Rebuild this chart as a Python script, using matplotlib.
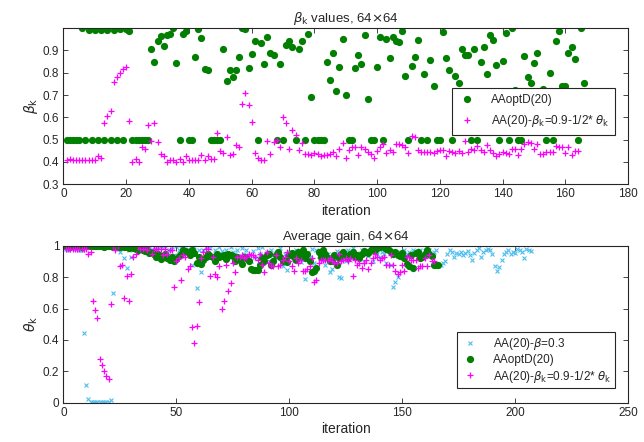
import matplotlib
matplotlib.use("Agg")
import matplotlib.pyplot as plt

# ---------------- data ----------------
# Top panel: beta_k values
beta_opt = [0.5, 0.5, 0.5, 0.5, 0.5, 1.0, 0.5, 0.99, 0.5, 0.99,
            0.5, 0.99, 0.5, 0.99, 0.5, 0.99, 0.5, 0.995, 0.5, 0.995,
            0.985, 0.5, 0.5, 0.5, 0.5, 0.5, 0.5, 0.905, 0.847, 0.94,
            0.963, 0.918, 0.97, 0.972, 0.998, 0.843, 0.5, 0.975, 0.985, 0.5,
            0.5, 0.87, 0.995, 0.955, 0.815, 0.81, 0.5, 0.5, 0.5, 0.5,
            0.905, 0.762, 0.812, 0.78, 0.812, 0.868, 0.998, 0.995, 0.82, 0.882,
            0.94, 0.5, 0.932, 0.84, 0.962, 0.887, 0.878, 0.5, 0.84, 0.5,
            0.925, 0.944, 0.914, 0.5, 0.905, 0.944, 0.5, 0.975, 0.693, 0.5,
            0.5, 0.5, 0.5, 0.85, 0.765, 0.887, 0.716, 0.826, 0.95, 0.698,
            0.5, 0.5, 0.82, 0.88, 0.837, 0.97, 0.684, 0.5, 0.5, 0.826,
            0.962, 0.5, 0.95, 0.867, 0.962, 0.94, 0.937, 0.985, 0.785, 0.5,
            0.828, 0.87, 0.945, 0.5, 0.795, 0.5, 0.856, 0.741, 0.5, 0.5,
            0.98, 0.867, 0.813, 0.5, 0.787, 0.752, 0.905, 0.88, 0.878, 0.5,
            0.905, 0.5, 0.846, 0.917, 0.795, 0.97, 0.947, 0.836, 0.5, 0.853,
            0.976, 0.5, 0.998, 0.722, 0.5, 0.5, 0.876, 0.78, 0.752, 0.845,
            0.886, 0.706, 0.727, 0.5, 0.797, 0.5, 0.94, 0.987, 0.742, 0.742,
            0.89, 0.913, 0.862, 0.5, 0.998, 0.752]

beta_aa = [0.41, 0.412, 0.41, 0.41, 0.41, 0.41, 0.41, 0.41, 0.41, 0.41,
           0.425, 0.42, 0.575, 0.605, 0.63, 0.76, 0.78, 0.80, 0.815, 0.825,
           0.585, 0.40, 0.415, 0.40, 0.465, 0.46, 0.565, 0.495, 0.575, 0.49,
           0.435, 0.425, 0.40, 0.41, 0.41, 0.40, 0.415, 0.40, 0.425, 0.41,
           0.41, 0.41, 0.41, 0.43, 0.41, 0.425, 0.415, 0.415, 0.53, 0.45,
           0.44, 0.51, 0.43, 0.435, 0.475, 0.465, 0.66, 0.71, 0.655, 0.58,
           0.44, 0.42, 0.41, 0.41, 0.495, 0.435, 0.49, 0.50, 0.465, 0.60,
           0.575, 0.46, 0.545, 0.52, 0.455, 0.485, 0.435, 0.435, 0.43, 0.44,
           0.435, 0.425, 0.43, 0.43, 0.435, 0.445, 0.425, 0.46, 0.485, 0.42,
           0.455, 0.465, 0.465, 0.43, 0.465, 0.46, 0.445, 0.435, 0.42, 0.45,
           0.465, 0.48, 0.44, 0.455, 0.445, 0.48, 0.48, 0.475, 0.465, 0.44,
           0.515, 0.51, 0.455, 0.445, 0.445, 0.445, 0.445, 0.44, 0.45, 0.455,
           0.455, 0.425, 0.45, 0.445, 0.44, 0.45, 0.44, 0.495, 0.445, 0.46,
           0.455, 0.47, 0.455, 0.445, 0.475, 0.455, 0.44, 0.425, 0.435, 0.445,
           0.44, 0.435, 0.46, 0.46, 0.43, 0.46, 0.48, 0.49, 0.485, 0.46,
           0.48, 0.435, 0.435, 0.445, 0.445, 0.445, 0.47, 0.465, 0.465, 0.44,
           0.465, 0.43, 0.45, 0.45]

# Bottom panel: theta_k (average gain)
theta_b03 = [0.98, 0.975, 0.985, 0.99, 0.98, 0.99, 0.97, 0.975, 0.445, 0.115,
             0.025, 0.005, 0.005, 0.004, 0.005, 0.005, 0.006, 0.005, 0.005, 0.006,
             0.015, 0.70, 0.99, 0.98, 0.96, 0.995, 0.92, 0.855, 0.975, 0.93,
             0.99, 0.985, 1.0, 0.97, 0.995, 0.98, 0.99, 1.0, 0.975, 0.99,
             0.965, 0.99, 1.0, 0.985, 1.0, 0.96, 0.975, 0.99, 0.94, 0.995,
             0.97, 0.985, 0.99, 0.96, 0.98, 0.965, 0.875, 0.99, 0.73, 0.975,
             0.83, 0.97, 0.99, 0.955, 0.985, 0.92, 0.975, 0.94, 0.99, 0.965,
             0.95, 0.975, 0.93, 0.99, 0.96, 0.945, 0.97, 0.935, 0.985, 0.95,
             0.975, 0.94, 0.90, 0.965, 0.925, 0.985, 0.945, 0.99, 0.93, 0.96,
             0.905, 0.975, 0.94, 0.955, 0.925, 0.985, 0.87, 0.95, 0.845, 0.96,
             0.935, 0.905, 0.975, 0.95, 0.895, 0.985, 0.79, 0.955, 0.93, 0.98,
             0.89, 0.97, 0.935, 0.96, 0.91, 0.875, 0.945, 0.835, 0.85, 0.92,
             0.965, 0.80, 0.795, 0.945, 0.90, 0.975, 0.91, 0.985, 0.94, 0.955,
             0.92, 0.97, 0.895, 0.955, 0.935, 0.98, 0.90, 0.965, 0.945, 0.93,
             0.96, 0.95, 0.89, 0.975, 0.88, 0.735, 0.77, 0.80, 0.96, 0.935,
             0.975, 0.945, 0.96, 0.925, 0.975, 0.955, 0.93, 0.97, 0.94, 0.965,
             0.95, 0.975, 0.935, 0.96, 0.97, 0.875, 0.88, 0.89, 0.90, 0.95,
             0.97, 0.96, 0.93, 0.955, 0.95, 0.96, 0.94, 0.955, 0.965, 0.94,
             0.91, 0.955, 0.97, 0.985, 0.93, 0.96, 0.975, 0.98, 0.97, 0.95,
             0.87, 0.84, 0.865, 0.91, 0.95, 0.96, 0.97, 0.945, 0.96, 0.955,
             0.98, 0.97, 0.96, 0.92, 0.98, 0.975, 0.965]

theta_opt = [0.995, 0.995, 0.99, 0.995, 0.995, 0.995, 0.995, 0.99, 0.995, 0.995,
             0.995, 0.995, 0.995, 0.995, 0.995, 0.995, 0.995, 0.99, 0.995, 0.995,
             0.995, 0.99, 0.995, 0.99, 0.99, 0.995, 0.99, 0.99, 0.985, 0.99,
             0.985, 0.98, 0.975, 0.98, 0.97, 0.965, 0.97, 0.955, 0.96, 0.95,
             0.93, 0.945, 0.915, 0.935, 0.95, 0.92, 0.91, 0.93, 0.905, 0.915,
             0.935, 0.95, 0.97, 0.965, 0.96, 0.94, 0.97, 0.955, 0.89, 0.93,
             0.885, 0.91, 0.925, 0.95, 0.935, 0.93, 0.90, 0.945, 0.925, 0.935,
             0.94, 0.915, 0.95, 0.94, 0.935, 0.90, 0.93, 0.91, 0.885, 0.93,
             0.92, 0.90, 0.85, 0.848, 0.845, 0.845, 0.88, 0.92, 0.905, 0.94,
             0.95, 0.875, 0.90, 0.94, 0.96, 0.93, 0.905, 0.91, 0.895, 0.94,
             0.955, 0.93, 0.91, 0.96, 0.935, 0.975, 0.92, 0.945, 0.90, 0.83,
             0.84, 0.86, 0.96, 0.93, 0.97, 0.945, 0.92, 0.905, 0.90, 0.94,
             0.875, 0.92, 0.945, 0.96, 0.935, 0.925, 0.95, 0.96, 0.93, 0.94,
             0.92, 0.95, 0.965, 0.96, 0.955, 0.975, 0.98, 0.97, 0.985, 0.99,
             0.995, 0.99, 0.98, 0.97, 0.96, 0.95, 0.96, 0.94, 0.935, 0.955,
             0.92, 0.885, 0.87, 0.94, 0.86, 0.955, 0.96, 0.92, 0.93, 0.945,
             0.97, 0.95, 0.935, 0.875, 0.875, 0.875]

theta_aa = [0.98, 0.976, 0.98, 0.98, 0.98, 0.98, 0.98, 0.98, 0.98, 0.98,
            0.95, 0.96, 0.65, 0.59, 0.54, 0.28, 0.24, 0.20, 0.17, 0.15,
            0.63, 1.0, 0.97, 1.0, 0.87, 0.88, 0.67, 0.81, 0.65, 0.82,
            0.93, 0.95, 1.0, 0.98, 0.98, 1.0, 0.97, 1.0, 0.95, 0.98,
            0.98, 0.98, 0.98, 0.94, 0.98, 0.95, 0.97, 0.97, 0.74, 0.90,
            0.92, 0.78, 0.94, 0.93, 0.85, 0.87, 0.48, 0.38, 0.49, 0.64,
            0.92, 0.96, 0.98, 0.98, 0.81, 0.93, 0.82, 0.80, 0.87, 0.60,
            0.65, 0.88, 0.71, 0.76, 0.89, 0.83, 0.93, 0.93, 0.94, 0.92,
            0.93, 0.95, 0.94, 0.94, 0.93, 0.91, 0.95, 0.88, 0.83, 0.96,
            0.89, 0.87, 0.87, 0.94, 0.87, 0.88, 0.91, 0.93, 0.96, 0.90,
            0.87, 0.84, 0.92, 0.89, 0.91, 0.84, 0.84, 0.85, 0.87, 0.92,
            0.77, 0.78, 0.89, 0.91, 0.91, 0.91, 0.91, 0.92, 0.90, 0.89,
            0.89, 0.95, 0.90, 0.91, 0.92, 0.90, 0.92, 0.81, 0.91, 0.88,
            0.89, 0.86, 0.89, 0.91, 0.85, 0.89, 0.92, 0.95, 0.93, 0.91,
            0.92, 0.93, 0.88, 0.88, 0.94, 0.88, 0.84, 0.82, 0.83, 0.88,
            0.84, 0.93, 0.93, 0.91, 0.91, 0.91, 0.86, 0.87, 0.87, 0.92,
            0.87, 0.94, 0.90, 0.90]

top_xticks = [0, 20, 40, 60, 80, 100, 120, 140, 160, 180]
top_yticks = [0.3, 0.4, 0.5, 0.6, 0.7, 0.8, 0.9]
bot_xticks = [0, 50, 100, 150, 200, 250]
bot_yticks = [0, 0.2, 0.4, 0.6, 0.8, 1.0]
bot_ytick_labels = ["0", "0.2", "0.4", "0.6", "0.8", "1"]

# ---------------- style ----------------
plt.rcParams['font.family'] = ['Liberation Sans', 'DejaVu Sans']
plt.rcParams['mathtext.fontset'] = 'dejavusans'
TXT = '#262626'
GREEN = '#007f00'
MAG = '#ff00ff'
CYAN = '#4dbeee'

fig = plt.figure(figsize=(6.44, 4.42), dpi=100)
ax1 = fig.add_axes([0.0986, 0.583, 0.8765, 0.3536])
ax2 = fig.add_axes([0.0986, 0.0889, 0.8765, 0.3552])


def style(ax):
    for s in ax.spines.values():
        s.set_color(TXT)
        s.set_linewidth(0.8)
    ax.tick_params(direction='in', top=True, right=True, length=3.5,
                   width=0.6, color=TXT, labelcolor=TXT, labelsize=8.5, pad=3)


x_opt = list(range(1, len(beta_opt) + 1))
x_aa = list(range(1, len(beta_aa) + 1))
ax1.plot(x_opt, beta_opt, 'o', color=GREEN, markersize=5.2, markeredgewidth=0,
         label='AAoptD(20)', clip_on=True)
ax1.plot(x_aa, beta_aa, '+', color=MAG, markersize=5, markeredgewidth=0.9,
         label=r'AA(20)-$\beta_{\rm k}$=0.9-1/2* $\theta_{\rm k}$')
ax1.set_xlim(0, 180)
ax1.set_ylim(0.3, 1.0)
ax1.set_xticks(top_xticks)
ax1.set_yticks(top_yticks)
ax1.set_yticklabels([f"{v:.1f}" for v in top_yticks])
style(ax1)
ax1.set_title(r'$\beta_{\rm k}$ values, 64$\times$64', fontsize=9.5, color=TXT, pad=4)
ax1.set_xlabel('iteration', fontsize=10, color=TXT, labelpad=2.5)
ax1.set_ylabel(r'$\beta_{\rm k}$', fontsize=10, color=TXT, labelpad=2)
leg1 = ax1.legend(loc='lower right', bbox_to_anchor=(0.988, 0.28),
                  fontsize=8.5, frameon=True, fancybox=False, framealpha=1,
                  edgecolor=TXT, handletextpad=1.2, borderpad=0.5,
                  labelspacing=0.6, handlelength=1.6)
leg1.get_frame().set_linewidth(0.8)
for t in leg1.get_texts():
    t.set_color(TXT)

x_b03 = list(range(1, len(theta_b03) + 1))
x_topt = list(range(1, len(theta_opt) + 1))
x_taa = list(range(1, len(theta_aa) + 1))
ax2.plot(x_b03, theta_b03, 'x', color=CYAN, markersize=3.2, markeredgewidth=0.8,
         label=r'AA(20)-$\beta$=0.3')
ax2.plot(x_topt, theta_opt, 'o', color=GREEN, markersize=5.2, markeredgewidth=0,
         label='AAoptD(20)')
ax2.plot(x_taa, theta_aa, '+', color=MAG, markersize=5, markeredgewidth=0.9,
         label=r'AA(20)-$\beta_{\rm k}$=0.9-1/2* $\theta_{\rm k}$')
ax2.set_xlim(0, 250)
ax2.set_ylim(0, 1.0)
ax2.set_xticks(bot_xticks)
ax2.set_yticks(bot_yticks)
ax2.set_yticklabels(bot_ytick_labels)
style(ax2)
ax2.set_title('Average gain, 64$\\times$64', fontsize=9.5, color=TXT, pad=4)
ax2.set_xlabel('iteration', fontsize=10, color=TXT, labelpad=2.5)
ax2.set_ylabel(r'$\theta_{\rm k}$', fontsize=10, color=TXT, labelpad=2)
leg2 = ax2.legend(loc='lower right', bbox_to_anchor=(0.988, 0.055),
                  fontsize=8.5, frameon=True, fancybox=False, framealpha=1,
                  edgecolor=TXT, handletextpad=1.2, borderpad=0.3,
                  labelspacing=0.2, handlelength=1.6)
leg2.get_frame().set_linewidth(0.8)
for t in leg2.get_texts():
    t.set_color(TXT)

fig.savefig('out.png', dpi=100)
